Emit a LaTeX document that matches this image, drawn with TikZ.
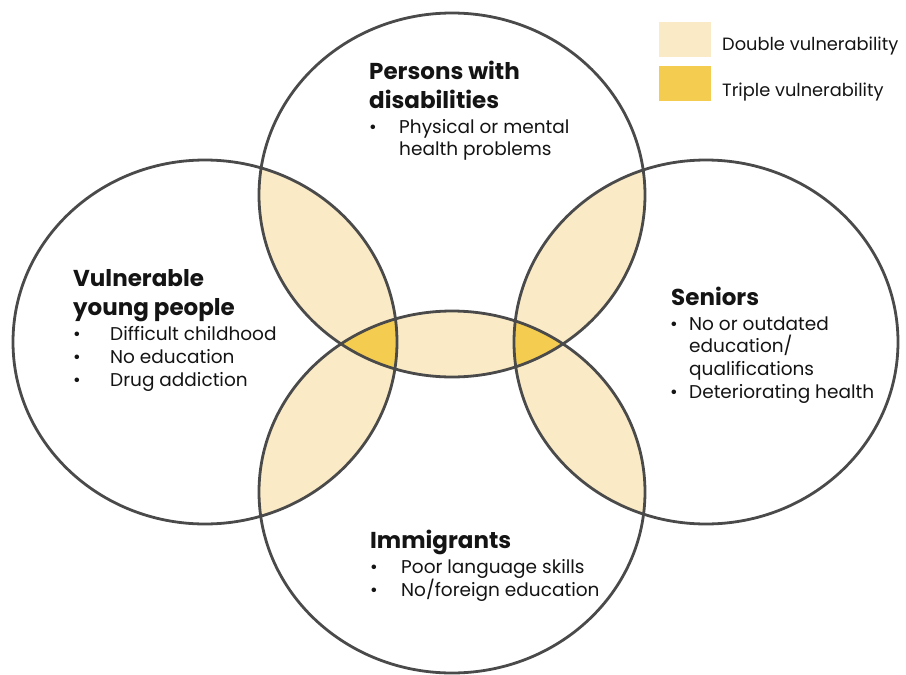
\documentclass[tikz,border=0pt]{standalone}
\usepackage{fontspec}
\setmainfont{Poppins}
\definecolor{sandlight}{HTML}{FAEBC6}
\definecolor{sanddeep}{HTML}{F4CC4F}
\definecolor{rimgrey}{HTML}{4A4A4A}
\definecolor{inkblack}{HTML}{141414}
% the four sets, as ellipse paths
\def\circDis{(452,195) ellipse [x radius=193pt, y radius=182pt]}
\def\circYoung{(205,342) ellipse [x radius=192pt, y radius=182pt]}
\def\circSen{(706,342) ellipse [x radius=192pt, y radius=182pt]}
\def\circImm{(452,492) ellipse [x radius=193pt, y radius=181pt]}

\tikzset{
  rim/.style={line width=2.8pt, color=rimgrey},
  headtxt/.style={anchor=base west, inner sep=0pt, text=inkblack,
    font=\bfseries\fontsize{23}{27}\selectfont},
  itemtxt/.style={anchor=base west, inner sep=0pt, text=inkblack,
    font=\fontsize{18.5}{22}\selectfont},
  keytxt/.style={itemtxt, font=\fontsize{17.8}{21}\selectfont},
}

\begin{document}
\begin{tikzpicture}[x=1pt, y=-1pt]
			%%%%% START %%%%%
			\useasboundingbox (0,0) rectangle (906,675);
			
			% double overlaps
			\begin{scope}
				\clip \circDis;
				\fill[sandlight] \circYoung;
				\fill[sandlight] \circSen;
				\fill[sandlight] \circImm;
			\end{scope}
			\begin{scope}
				\clip \circImm;
				\fill[sandlight] \circYoung;
				\fill[sandlight] \circSen;
			\end{scope}
			
			% triple overlaps
			\begin{scope}
				\clip \circDis;
				\clip \circImm;
				\fill[sanddeep] \circYoung;
				\fill[sanddeep] \circSen;
			\end{scope}
			
			\draw[rim] \circDis;
			\draw[rim] \circYoung;
			\draw[rim] \circSen;
			\draw[rim] \circImm;
			
			% top set
			\node[headtxt] (dis1) at (369, 79) {Persons with};
			\node[headtxt] (dis2) at (369, 108) {disabilities};
			\node[itemtxt] (disb1) at (369, 133) {\textbullet};
			\node[itemtxt] (disi1) at (399, 133) {Physical or mental};
			\node[itemtxt] (disi2) at (399, 155) {health problems};
			
			% left set
			\node[headtxt] (young1) at (73, 286) {Vulnerable};
			\node[headtxt] (young2) at (73, 315) {young people};
			\node[itemtxt] (youngb1) at (73, 340) {\textbullet};
			\node[itemtxt] (youngb2) at (73, 363) {\textbullet};
			\node[itemtxt] (youngb3) at (73, 386) {\textbullet};
			\node[itemtxt] (youngi1) at (110, 340) {Difficult childhood};
			\node[itemtxt] (youngi2) at (110, 363) {No education};
			\node[itemtxt] (youngi3) at (110, 386) {Drug addiction};
			
			% right set
			\node[headtxt] (sen1) at (671, 305) {Seniors};
			\node[itemtxt] (senb1) at (670, 330) {\textbullet};
			\node[itemtxt] (senb2) at (670, 398) {\textbullet};
			\node[itemtxt] (seni1) at (689, 330) {No or outdated};
			\node[itemtxt] (seni2) at (689, 352) {education/};
			\node[itemtxt] (seni3) at (689, 375) {qualifications};
			\node[itemtxt] (seni4) at (689, 398) {Deteriorating health};
			
			% bottom set
			\node[headtxt] (imm1) at (370, 548) {Immigrants};
			\node[itemtxt] (immb1) at (370, 573) {\textbullet};
			\node[itemtxt] (immb2) at (370, 596) {\textbullet};
			\node[itemtxt] (immi1) at (401, 573) {Poor language skills};
			\node[itemtxt] (immi2) at (401, 596) {No/foreign education};
			
			% legend
			\fill[sandlight] (659, 22) rectangle (711, 57);
			\fill[sanddeep] (659, 66) rectangle (711, 101);
			\node[keytxt] (lgdouble) at (722, 50) {Double vulnerability};
			\node[keytxt] (lgtriple) at (722, 96) {Triple vulnerability};
			
			%%%%% END %%%%%
		\end{tikzpicture}
\end{document}
